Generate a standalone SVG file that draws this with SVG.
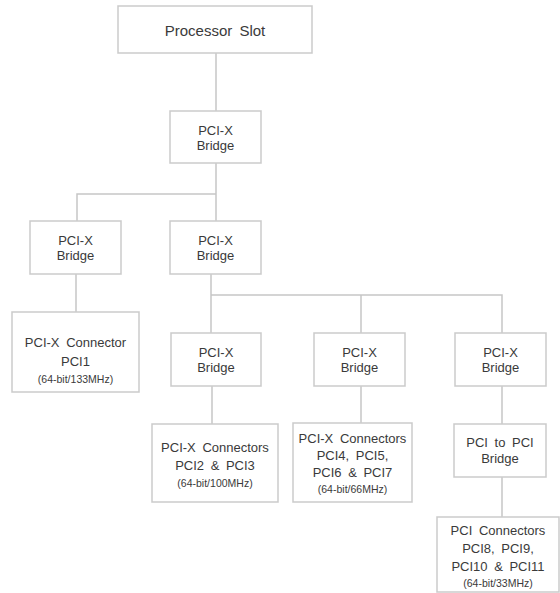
<svg xmlns="http://www.w3.org/2000/svg" width="560" height="593" viewBox="0 0 560 593">
<style>
.box{fill:#fff;stroke:#cbcbcb;stroke-width:1.5}
.ln{fill:none;stroke:#c6c6c6;stroke-width:1.5}
text{font-family:"Liberation Sans",Arial,sans-serif;fill:#3a3a3a;text-anchor:middle;font-size:13px;word-spacing:3px}
.big{font-size:15px}
.sm{font-size:10.5px;word-spacing:0}
</style>
<rect width="560" height="593" fill="#fff"/>
<g id="connectors">
<path class="ln" d="M216 53V111M216 163V221M216 194H77V221M76 274V312M211 274V333M211 295H502V333M361 295V333M212 386V424M361 386V423M502 386V424M502 477V517"/>
</g>
<g id="processor"><rect class="box" x="118" y="6" width="194" height="47"/><text class="big" x="215" y="36">Processor Slot</text></g>
<g id="bridge0"><rect class="box" x="170" y="111" width="91" height="52"/><text x="215.5" y="135">PCI-X</text><text x="215.5" y="150">Bridge</text></g>
<g id="bridge1"><rect class="box" x="30" y="221" width="91" height="53"/><text x="75.5" y="245">PCI-X</text><text x="75.5" y="260">Bridge</text></g>
<g id="bridge2"><rect class="box" x="170" y="221" width="91" height="53"/><text x="215.5" y="245">PCI-X</text><text x="215.5" y="260">Bridge</text></g>
<g id="pci1"><rect class="box" x="12" y="312" width="127" height="80"/><text x="75.5" y="347">PCI-X Connector</text><text x="75.5" y="366">PCI1</text><text class="sm" x="75.5" y="383">(64-bit/133MHz)</text></g>
<g id="bridge3"><rect class="box" x="171" y="333" width="90" height="53"/><text x="216" y="357">PCI-X</text><text x="216" y="372">Bridge</text></g>
<g id="bridge4"><rect class="box" x="314" y="333" width="91" height="53"/><text x="359.5" y="357">PCI-X</text><text x="359.5" y="372">Bridge</text></g>
<g id="bridge5"><rect class="box" x="455" y="333" width="91" height="53"/><text x="500.5" y="357">PCI-X</text><text x="500.5" y="372">Bridge</text></g>
<g id="pci23"><rect class="box" x="152" y="424" width="126" height="78"/><text x="215" y="452">PCI-X Connectors</text><text x="215" y="470">PCI2 &amp; PCI3</text><text class="sm" x="215" y="487">(64-bit/100MHz)</text></g>
<g id="pci47"><rect class="box" x="293" y="423" width="119" height="79"/><text x="352.5" y="443">PCI-X Connectors</text><text x="352.5" y="460">PCI4, PCI5,</text><text x="352.5" y="477">PCI6 &amp; PCI7</text><text class="sm" x="352.5" y="493">(64-bit/66MHz)</text></g>
<g id="pcibridge"><rect class="box" x="454" y="424" width="92" height="53"/><text x="500" y="447">PCI to PCI</text><text x="500" y="463">Bridge</text></g>
<g id="pci811"><rect class="box" x="437" y="517" width="122" height="75"/><text x="498" y="535">PCI Connectors</text><text x="498" y="553">PCI8, PCI9,</text><text x="498" y="571">PCI10 &amp; PCI11</text><text class="sm" x="498" y="587">(64-bit/33MHz)</text></g>
</svg>
